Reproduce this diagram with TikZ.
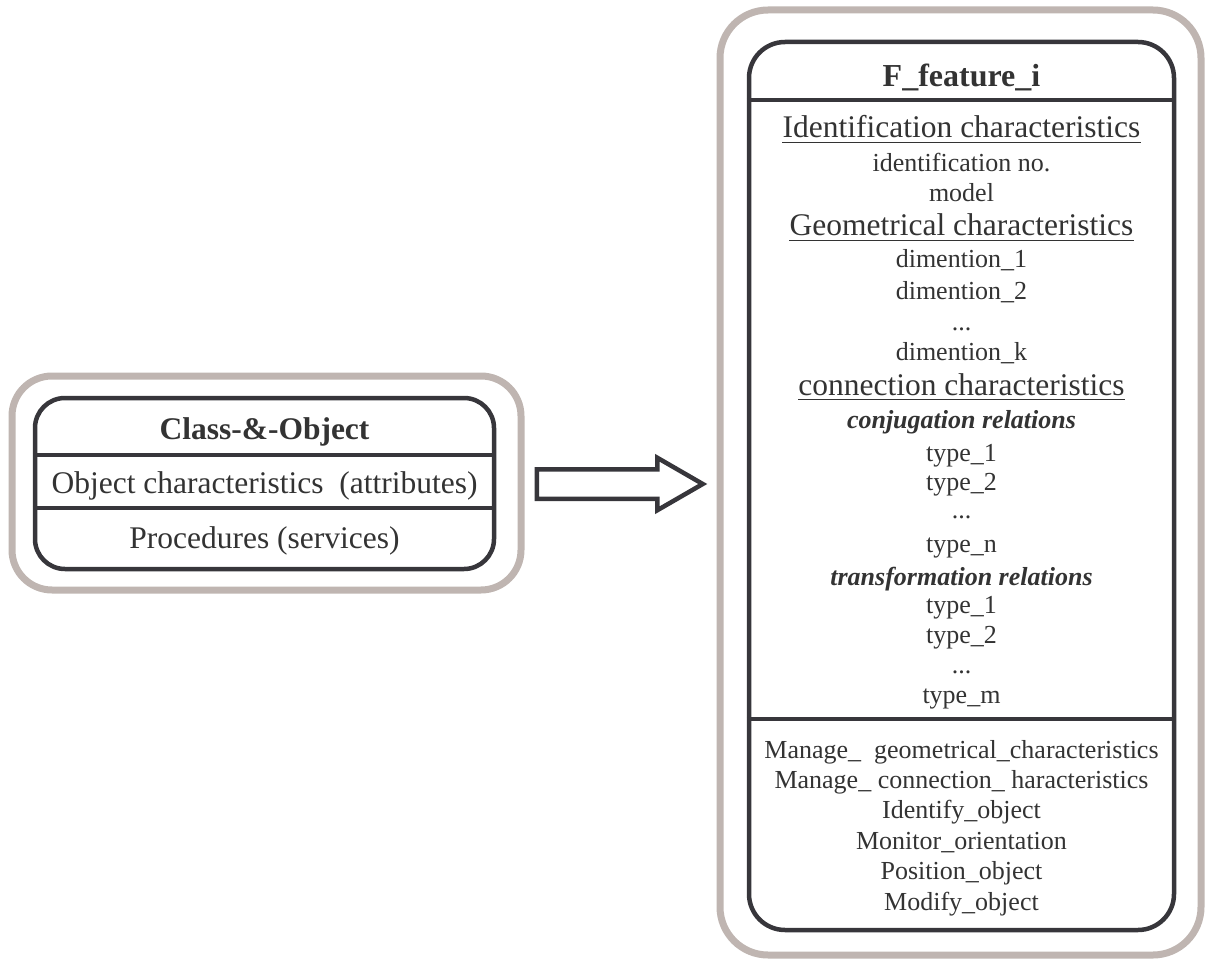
\documentclass[tikz,border=0pt]{standalone}
\usepackage{fontspec}
\setmainfont{Liberation Serif}
\usetikzlibrary{shapes.arrows,calc}
\definecolor{boxgray}{HTML}{BFB5B1}
\definecolor{boxdark}{HTML}{37363B}
\definecolor{txtgray}{HTML}{333333}
\newcommand{\tdots}{...}
\begin{document}
\begin{tikzpicture}[x=1pt,y=-1pt,
  outerbox/.style={draw=boxgray,line width=7pt,rounded corners=#1,inner sep=0pt},
  innerbox/.style={draw=boxdark,line width=4.5pt,rounded corners=#1,inner sep=0pt},
  divline/.style={draw=boxdark,line width=4.5pt},
  uline/.style={draw=txtgray,line width=1.4pt},
  txt/.style={text=txtgray,inner sep=0pt,anchor=base},
  item/.style={txt,font=\fontsize{26}{30}\selectfont},
  head/.style={txt,font=\fontsize{31.5}{36}\selectfont},
  rel/.style={txt,font=\fontsize{26}{30}\selectfont\bfseries\itshape},
  ttl/.style={txt,font=\fontsize{32}{36}\selectfont\bfseries},
  big/.style={txt,font=\fontsize{31.5}{36}\selectfont}]
\useasboundingbox (0,0) rectangle (1205,960);
% left class box
\node[outerbox=40pt,minimum width=509pt,minimum height=214pt] (clsouter) at (266.5,483) {};
\node[innerbox=30pt,minimum width=459pt,minimum height=171pt] (clsbox) at (264.5,483.5) {};
\draw[divline] (clsbox.west |- 0,455) -- (clsbox.east |- 0,455);
\draw[divline] (clsbox.west |- 0,508) -- (clsbox.east |- 0,508);
\node[big,font=\fontsize{31.5}{36}\selectfont\bfseries] (clsname) at (clsbox.center |- 0,439) {Class-\&-Object};
\node[big] (clsattr) at (clsbox.center |- 0,493) {Object characteristics\ \ (attributes)};
\node[big] (clsproc) at (clsbox.center |- 0,548) {Procedures (services)};
% right feature box
\node[outerbox=48pt,minimum width=481pt,minimum height=945pt] (featouter) at (960.5,482.5) {};
\node[innerbox=36pt,minimum width=425pt,minimum height=888pt] (featbox) at (961.5,486) {};
\draw[divline] (featbox.west |- 0,100) -- (featbox.east |- 0,100);
\draw[divline] (featbox.west |- 0,719) -- (featbox.east |- 0,719);
\node[ttl] (featname) at (featbox.center |- 0,87) {F\_feature\_i};
\foreach \y/\t [count=\i] in {138/Identification characteristics,236/Geometrical characteristics,395/connection characteristics}{
  \node[head] (hd\i) at (featbox.center |- 0,\y) {\t};
  \draw[uline] ([yshift=-4.5pt]hd\i.base west) -- ([yshift=-4.5pt]hd\i.base east);
}
\foreach \y/\t [count=\i] in {428/conjugation relations,585/transformation relations}
  \node[rel] (rel\i) at (featbox.center |- 0,\y) {\t};
\foreach \y/\t [count=\i] in {172/identification no.,202/model,268/dimention\_1,299/dimention\_2,330/\tdots,360/dimention\_k,
  461/type\_1,490/type\_2,518/\tdots,552/type\_n,613/type\_1,643/type\_2,673/\tdots,703/type\_m}
  \node[item] (at\i) at (featbox.center |- 0,\y) {\t};
\foreach \y/\t [count=\i] in {758/Manage\_\ \ geometrical\_characteristics,788/Manage\_ connection\_ haracteristics,
  818/Identify\_object,849/Monitor\_orientation,879/Position\_object,910/Modify\_object}
  \node[item] (op\i) at (featbox.center |- 0,\y) {\t};
% arrow
\node[draw=boxdark,fill=white,line width=4.5pt,single arrow,single arrow head extend=11.5pt,
  single arrow tip angle=60,minimum height=166pt,inner xsep=0pt,inner ysep=12.5pt,anchor=tail] (arr)
  at ([xshift=10pt,yshift=-1pt]clsouter.east) {};
\end{tikzpicture}
\end{document}
